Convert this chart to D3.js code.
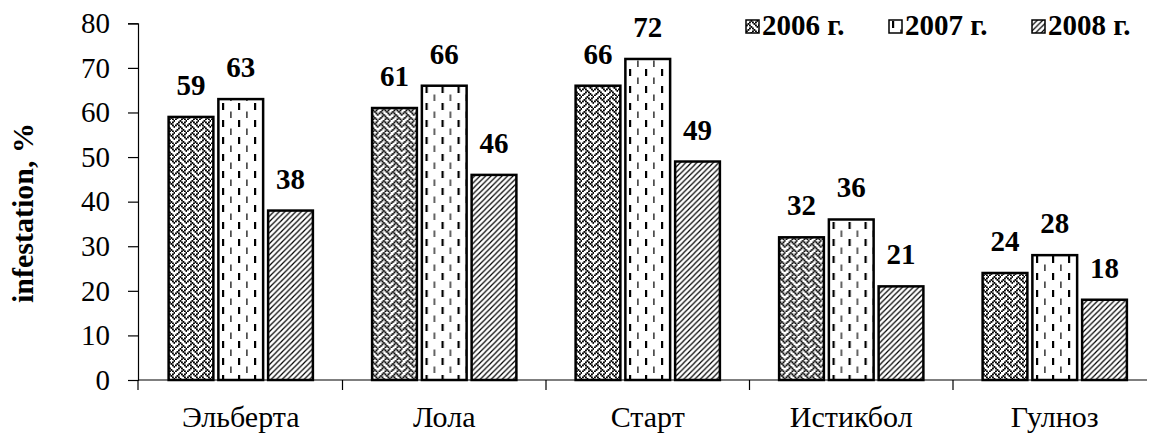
<!DOCTYPE html>
<html><head><meta charset="utf-8">
<script src="https://cdn.jsdelivr.net/npm/d3@7"></script>
<style>
html,body{margin:0;padding:0;background:#fff;}
svg{display:block;}
text{font-family:"Liberation Serif","Times New Roman",serif;fill:#000;}
</style></head>
<body>
<svg id="chart" width="1153" height="434"></svg>
<script>
const categories = ["Эльберта", "Лола", "Старт", "Истикбол", "Гулноз"];
const series = ["2006 г.", "2007 г.", "2008 г."];
const values2006 = [59, 61, 66, 32, 24];
const values2007 = [63, 66, 72, 36, 28];
const values2008 = [38, 46, 49, 21, 18];
const yTicks = [0, 10, 20, 30, 40, 50, 60, 70, 80];
const yTitle = "infestation, %";

const seriesValues = [values2006, values2007, values2008];
const patternIds = ["p2006", "p2007", "p2008"];
const FS = "29px";

const svg = d3.select("#chart");
const defs = svg.append("defs");

// weave pattern 2006
const weaveBits = [
  "...X...X",
  "..X.X.X.",
  ".X...X..",
  "X.X...X.",
  "...X...X",
  "..X.X...",
  ".X...X..",
  "X...X.X."
];
const cell = 1.5;
const p1 = defs.append("pattern").attr("id", "p2006").attr("patternUnits", "userSpaceOnUse")
  .attr("width", 8 * cell).attr("height", 8 * cell);
p1.append("rect").attr("width", 8 * cell).attr("height", 8 * cell).attr("fill", "#fff");
weaveBits.forEach((row, r) => {
  row.split("").forEach((ch, c) => {
    if (ch === "X") p1.append("rect").attr("x", c * cell).attr("y", r * cell)
      .attr("width", cell + 0.35).attr("height", cell + 0.35).attr("fill", "#000");
  });
});

// dashed vertical 2007
const p2 = defs.append("pattern").attr("id", "p2007").attr("patternUnits", "userSpaceOnUse")
  .attr("width", 16).attr("height", 17);
p2.append("rect").attr("width", 16).attr("height", 17).attr("fill", "#fff");
p2.append("rect").attr("x", 3).attr("y", 1).attr("width", 2.2).attr("height", 7).attr("fill", "#000");
p2.append("rect").attr("x", 11.2).attr("y", 9.5).attr("width", 1.4).attr("height", 6.5).attr("fill", "#222");

// diagonal 2008
const p3 = defs.append("pattern").attr("id", "p2008").attr("patternUnits", "userSpaceOnUse")
  .attr("width", 5.5).attr("height", 5.5);
p3.append("rect").attr("width", 5.5).attr("height", 5.5).attr("fill", "#fff");
p3.append("path").attr("d", "M0,5.5 L5.5,0 M-1,1 L1,-1 M4.5,6.5 L6.5,4.5")
  .attr("stroke", "#000").attr("stroke-width", 1.2);

const y = d3.scaleLinear().domain([0, 80]).range([380, 23.3]);
const x0 = d3.scaleBand().domain(categories).range([139, 1156.5]).padding(0);
const x1 = d3.scaleBand().domain(series).range([0, x0.bandwidth()]).paddingInner(0).paddingOuter(0.545);

// y axis
const yAxis = d3.axisLeft(y).tickValues(yTicks).tickSize(10).tickPadding(18).tickFormat(d3.format("d"));
const gy = svg.append("g").attr("transform", "translate(138,0)").call(yAxis);
gy.select(".domain").attr("stroke", "#000").attr("stroke-width", 1.2);
gy.selectAll(".tick line").attr("stroke", "#000").attr("stroke-width", 1.2);
gy.selectAll(".tick text").style("font-family", "Liberation Serif").style("font-size", FS).attr("fill", "#000");

// x axis line
svg.append("line").attr("x1", 138).attr("x2", 1147).attr("y1", y(0)).attr("y2", y(0))
  .attr("stroke", "#000").attr("stroke-width", 1.2);
// category boundary ticks
const bounds = categories.map(c => x0(c)).concat([x0.range()[1]]);
svg.selectAll(".xtick").data(bounds.slice(1)).enter().append("line")
  .attr("x1", d => d).attr("x2", d => d).attr("y1", y(0)).attr("y2", y(0) + 10)
  .attr("stroke", "#000").attr("stroke-width", 1.2);
svg.append("line").attr("x1", 138).attr("x2", 138).attr("y1", y(0)).attr("y2", y(0) + 10)
  .attr("stroke", "#000").attr("stroke-width", 1.2);

// category labels
svg.selectAll(".cat").data(categories).enter().append("text")
  .attr("x", d => x0(d) + x0.bandwidth() / 2).attr("y", 427)
  .attr("text-anchor", "middle").style("font-size", "30px").text(d => d);

// bars
const inset = 2.5;
const groups = svg.selectAll(".grp").data(categories).enter().append("g")
  .attr("transform", d => `translate(${x0(d)},0)`);
series.forEach((s, si) => {
  groups.append("rect")
    .attr("x", x1(s) + inset)
    .attr("width", x1.bandwidth() - 2 * inset)
    .attr("y", (d, i) => y(seriesValues[si][i]))
    .attr("height", (d, i) => y(0) - y(seriesValues[si][i]))
    .attr("fill", `url(#${patternIds[si]})`)
    .attr("stroke", "#000").attr("stroke-width", 2.5);
  groups.append("text")
    .attr("x", x1(s) + x1.bandwidth() / 2)
    .attr("y", (d, i) => y(seriesValues[si][i]) - 22)
    .attr("text-anchor", "middle")
    .style("font-size", FS).style("font-weight", "bold")
    .text((d, i) => seriesValues[si][i]);
});

// y title
svg.append("text").attr("transform", "translate(33,213) rotate(-90)")
  .attr("text-anchor", "middle").style("font-size", "30px").style("font-weight", "bold")
  .text(yTitle);

// legend
const legend = svg.append("g").attr("transform", "translate(746,20)");
series.forEach((s, si) => {
  const g = legend.append("g").attr("transform", `translate(${si * 143},0)`);
  g.append("rect").attr("x", 0).attr("y", 0).attr("width", 13).attr("height", 13)
    .attr("fill", `url(#${patternIds[si]})`).attr("stroke", "#000").attr("stroke-width", 1.5);
  g.append("text").attr("x", 16).attr("y", 15).style("font-size", FS).style("font-weight", "bold").text(s);
});
</script>
</body></html>
